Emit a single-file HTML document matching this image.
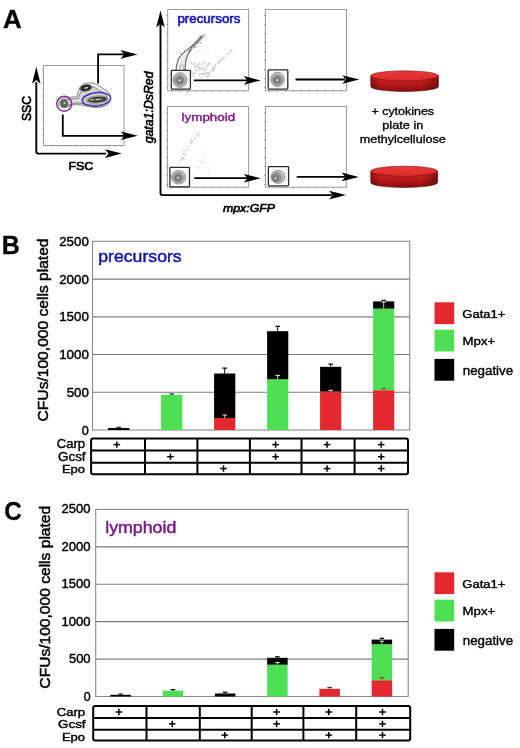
<!DOCTYPE html>
<html><head><meta charset="utf-8"><style>
html,body{margin:0;padding:0;background:#fff;overflow:hidden;width:520px;height:748px;}
svg{display:block;font-family:"Liberation Sans", sans-serif;filter:blur(0.3px);}
</style></head><body>
<svg width="520" height="748" viewBox="0 0 520 748">
<defs>
<linearGradient id="top" x1="0" y1="0" x2="0" y2="1">
<stop offset="0" stop-color="#e63a3a"/><stop offset="1" stop-color="#e02a2a"/></linearGradient>
<linearGradient id="wallv" x1="0" y1="0" x2="0" y2="1">
<stop offset="0" stop-color="#d82222"/><stop offset="0.55" stop-color="#c21a1a"/><stop offset="1" stop-color="#8e0c0c"/></linearGradient>
<linearGradient id="wallh" x1="0" y1="0" x2="1" y2="0">
<stop offset="0" stop-color="#000" stop-opacity="0.35"/><stop offset="0.15" stop-color="#000" stop-opacity="0.05"/><stop offset="0.75" stop-color="#000" stop-opacity="0.05"/><stop offset="1" stop-color="#000" stop-opacity="0.4"/></linearGradient>
</defs>
<rect width="520" height="748" fill="#fff"/>
<text transform="translate(3.00,27.95) scale(1.0031,1)" font-size="25.89" font-weight="bold" font-style="normal" fill="#000" stroke="#000" stroke-width="0.3" stroke-linejoin="round">A</text>
<text transform="translate(1.66,254.05) scale(0.9854,1)" font-size="25.45" font-weight="bold" font-style="normal" fill="#000" stroke="#000" stroke-width="0.3" stroke-linejoin="round">B</text>
<text transform="translate(4.18,520.25) scale(0.9252,1)" font-size="26.24" font-weight="bold" font-style="normal" fill="#000" stroke="#000" stroke-width="0.3" stroke-linejoin="round">C</text>
<rect x="43.5" y="65.5" width="80.5" height="80" fill="none" stroke="#9a9a9a" stroke-width="1"/>
<line x1="42.30" y1="70.00" x2="43.50" y2="70.00" stroke="#888" stroke-width="0.8" />
<line x1="42.30" y1="76.50" x2="43.50" y2="76.50" stroke="#888" stroke-width="0.8" />
<line x1="42.30" y1="83.00" x2="43.50" y2="83.00" stroke="#888" stroke-width="0.8" />
<line x1="42.30" y1="89.50" x2="43.50" y2="89.50" stroke="#888" stroke-width="0.8" />
<line x1="42.30" y1="96.00" x2="43.50" y2="96.00" stroke="#888" stroke-width="0.8" />
<line x1="42.30" y1="102.50" x2="43.50" y2="102.50" stroke="#888" stroke-width="0.8" />
<line x1="42.30" y1="109.00" x2="43.50" y2="109.00" stroke="#888" stroke-width="0.8" />
<line x1="42.30" y1="115.50" x2="43.50" y2="115.50" stroke="#888" stroke-width="0.8" />
<line x1="42.30" y1="122.00" x2="43.50" y2="122.00" stroke="#888" stroke-width="0.8" />
<line x1="42.30" y1="128.50" x2="43.50" y2="128.50" stroke="#888" stroke-width="0.8" />
<line x1="42.30" y1="135.00" x2="43.50" y2="135.00" stroke="#888" stroke-width="0.8" />
<line x1="42.30" y1="141.50" x2="43.50" y2="141.50" stroke="#888" stroke-width="0.8" />
<line x1="47.00" y1="145.50" x2="47.00" y2="146.80" stroke="#888" stroke-width="0.8" />
<line x1="52.70" y1="145.50" x2="52.70" y2="146.80" stroke="#888" stroke-width="0.8" />
<line x1="58.40" y1="145.50" x2="58.40" y2="146.80" stroke="#888" stroke-width="0.8" />
<line x1="64.10" y1="145.50" x2="64.10" y2="146.80" stroke="#888" stroke-width="0.8" />
<line x1="69.80" y1="145.50" x2="69.80" y2="146.80" stroke="#888" stroke-width="0.8" />
<line x1="75.50" y1="145.50" x2="75.50" y2="146.80" stroke="#888" stroke-width="0.8" />
<line x1="81.20" y1="145.50" x2="81.20" y2="146.80" stroke="#888" stroke-width="0.8" />
<line x1="86.90" y1="145.50" x2="86.90" y2="146.80" stroke="#888" stroke-width="0.8" />
<line x1="92.60" y1="145.50" x2="92.60" y2="146.80" stroke="#888" stroke-width="0.8" />
<line x1="98.30" y1="145.50" x2="98.30" y2="146.80" stroke="#888" stroke-width="0.8" />
<line x1="104.00" y1="145.50" x2="104.00" y2="146.80" stroke="#888" stroke-width="0.8" />
<line x1="109.70" y1="145.50" x2="109.70" y2="146.80" stroke="#888" stroke-width="0.8" />
<line x1="115.40" y1="145.50" x2="115.40" y2="146.80" stroke="#888" stroke-width="0.8" />
<line x1="121.10" y1="145.50" x2="121.10" y2="146.80" stroke="#888" stroke-width="0.8" />
<path d="M36.3,82 L36.3,151.6 Q36.3,153.6 38.3,153.6 L106,153.6" stroke="#000" stroke-width="1.9" fill="none"/>
<polygon points="36.30,66.80 40.60,83.80 36.30,80.10 32.00,83.80" fill="#000"/>
<polygon points="121.90,153.60 104.90,149.30 108.60,153.60 104.90,157.90" fill="#000"/>
<text transform="translate(30.78,121.03) rotate(-90) scale(0.9424,1)" font-size="12.97" font-weight="normal" font-style="normal" fill="#000" stroke="#000" stroke-width="0.65" stroke-linejoin="round">SSC</text>
<text transform="translate(68.40,169.88) scale(1.0546,1)" font-size="11.83" font-weight="normal" font-style="normal" fill="#000" stroke="#000" stroke-width="0.65" stroke-linejoin="round">FSC</text>
<path d="M60,100 C63,97 70,97.5 77,96.5 C78,91 80,85 85,83.5 C90,82 95,83 99,86 C103,89 107,90 109,93 C112,97 111,104 104,106.5 C97,108.5 88,107 82,105 C76,104 72,105 69,106 C66,109 60,108 59,105 C58.5,103 59,101 60,100 Z" fill="#ececec" stroke="#6a6a6a" stroke-width="0.8"/>
<path d="M61,101 C64,99 71,99.5 78,98.5 C80,93 82,88 86,86.5 C90,85.5 94,86.5 97,89 C100,91.5 104,92 106,94.5 C108.5,98 108,103 103,104.5 C96,106 88,105 82,103.5 C76,102.5 72,104 69,105 C66,107 62,106.5 61,104.5 C60.5,103.5 60.5,102 61,101 Z" fill="#d2d2d2" stroke="#4a4a4a" stroke-width="0.6"/>
<path d="M71,100.6 L82,100.1" stroke="#f6f6f6" stroke-width="1.3" stroke-dasharray="2.2,1.2"/>
<ellipse cx="85.8" cy="87.9" rx="6.2" ry="3.2" fill="#9a9a9a" stroke="#6a6a6a" stroke-width="0.8" transform="rotate(-10 85.8 87.9)"/>
<ellipse cx="85.8" cy="87.9" rx="4.6" ry="2.0" fill="#3a3a3a" stroke="#111" stroke-width="1.2" transform="rotate(-10 85.8 87.9)"/>
<ellipse cx="86.3" cy="87.9" rx="2.2" ry="0.7" fill="#e8e8e8" transform="rotate(-10 86.3 87.9)"/>
<ellipse cx="97" cy="99.6" rx="11" ry="3.6" fill="#a8a8a0" stroke="#7a7a7a" stroke-width="0.7" transform="rotate(-5 97 99.6)"/>
<ellipse cx="97.5" cy="99.6" rx="9" ry="2.3" fill="#4a4a40" stroke="#222" stroke-width="0.7" transform="rotate(-5 97.5 99.6)"/>
<path d="M90,99.9 L94,99.7 M95.5,99.6 L101,99.3" stroke="#eef0d8" stroke-width="0.9"/>
<circle cx="64.2" cy="103.4" r="3.6" fill="#5f6a5a" stroke="#333" stroke-width="0.5"/>
<circle cx="64.6" cy="103" r="1.1" fill="#c8d8b8"/>
<ellipse cx="96.5" cy="99.4" rx="14.2" ry="6.7" fill="none" stroke="#3838bc" stroke-width="1.5" transform="rotate(-6 96.5 99.4)"/>
<circle cx="64.2" cy="103.7" r="7.5" fill="none" stroke="#8a2f94" stroke-width="1.5"/>
<polyline points="98.10,83.60 98.10,54.40 124.00,54.40" stroke="#000" stroke-width="1.8" fill="none" />
<polygon points="137.50,54.40 120.50,50.10 124.20,54.40 120.50,58.70" fill="#000"/>
<polyline points="62.80,114.50 62.80,135.80 124.00,135.80" stroke="#000" stroke-width="1.8" fill="none" />
<polygon points="137.70,135.80 120.70,131.50 124.40,135.80 120.70,140.10" fill="#000"/>
<text transform="translate(153.30,143.33) rotate(-90) scale(1.0084,1)" font-size="12.22" font-weight="normal" font-style="italic" fill="#000" stroke="#000" stroke-width="0.6" stroke-linejoin="round">gata1:DsRed</text>
<text transform="translate(222.98,212.20) scale(1.1769,1)" font-size="10.47" font-weight="normal" font-style="italic" fill="#000" stroke="#000" stroke-width="0.6" stroke-linejoin="round">mpx:GFP</text>
<path d="M160.5,24 L160.5,193.1 Q160.5,195.1 162.5,195.1 L332,195.1" stroke="#000" stroke-width="1.9" fill="none"/>
<polygon points="160.50,10.40 164.80,27.40 160.50,23.70 156.20,27.40" fill="#000"/>
<polygon points="346.00,195.10 329.00,190.80 332.70,195.10 329.00,199.40" fill="#000"/>
<rect x="167.7" y="9.5" width="80.90" height="81.20" fill="none" stroke="#9a9a9a" stroke-width="1"/>
<line x1="166.50" y1="15.50" x2="167.70" y2="15.50" stroke="#777" stroke-width="0.8" />
<line x1="166.50" y1="24.50" x2="167.70" y2="24.50" stroke="#777" stroke-width="0.8" />
<line x1="166.50" y1="33.50" x2="167.70" y2="33.50" stroke="#777" stroke-width="0.8" />
<line x1="166.50" y1="42.50" x2="167.70" y2="42.50" stroke="#777" stroke-width="0.8" />
<line x1="166.50" y1="51.50" x2="167.70" y2="51.50" stroke="#777" stroke-width="0.8" />
<line x1="166.50" y1="60.50" x2="167.70" y2="60.50" stroke="#777" stroke-width="0.8" />
<line x1="166.50" y1="69.50" x2="167.70" y2="69.50" stroke="#777" stroke-width="0.8" />
<line x1="166.50" y1="78.50" x2="167.70" y2="78.50" stroke="#777" stroke-width="0.8" />
<line x1="166.50" y1="87.50" x2="167.70" y2="87.50" stroke="#777" stroke-width="0.8" />
<line x1="171.70" y1="90.70" x2="171.70" y2="91.90" stroke="#777" stroke-width="0.8" />
<line x1="179.70" y1="90.70" x2="179.70" y2="91.90" stroke="#777" stroke-width="0.8" />
<line x1="187.70" y1="90.70" x2="187.70" y2="91.90" stroke="#777" stroke-width="0.8" />
<line x1="195.70" y1="90.70" x2="195.70" y2="91.90" stroke="#777" stroke-width="0.8" />
<line x1="203.70" y1="90.70" x2="203.70" y2="91.90" stroke="#777" stroke-width="0.8" />
<line x1="211.70" y1="90.70" x2="211.70" y2="91.90" stroke="#777" stroke-width="0.8" />
<line x1="219.70" y1="90.70" x2="219.70" y2="91.90" stroke="#777" stroke-width="0.8" />
<line x1="227.70" y1="90.70" x2="227.70" y2="91.90" stroke="#777" stroke-width="0.8" />
<line x1="235.70" y1="90.70" x2="235.70" y2="91.90" stroke="#777" stroke-width="0.8" />
<line x1="243.70" y1="90.70" x2="243.70" y2="91.90" stroke="#777" stroke-width="0.8" />
<rect x="265.4" y="9.5" width="81.10" height="81.20" fill="none" stroke="#9a9a9a" stroke-width="1"/>
<line x1="264.20" y1="15.50" x2="265.40" y2="15.50" stroke="#777" stroke-width="0.8" />
<line x1="264.20" y1="24.50" x2="265.40" y2="24.50" stroke="#777" stroke-width="0.8" />
<line x1="264.20" y1="33.50" x2="265.40" y2="33.50" stroke="#777" stroke-width="0.8" />
<line x1="264.20" y1="42.50" x2="265.40" y2="42.50" stroke="#777" stroke-width="0.8" />
<line x1="264.20" y1="51.50" x2="265.40" y2="51.50" stroke="#777" stroke-width="0.8" />
<line x1="264.20" y1="60.50" x2="265.40" y2="60.50" stroke="#777" stroke-width="0.8" />
<line x1="264.20" y1="69.50" x2="265.40" y2="69.50" stroke="#777" stroke-width="0.8" />
<line x1="264.20" y1="78.50" x2="265.40" y2="78.50" stroke="#777" stroke-width="0.8" />
<line x1="264.20" y1="87.50" x2="265.40" y2="87.50" stroke="#777" stroke-width="0.8" />
<line x1="269.40" y1="90.70" x2="269.40" y2="91.90" stroke="#777" stroke-width="0.8" />
<line x1="277.40" y1="90.70" x2="277.40" y2="91.90" stroke="#777" stroke-width="0.8" />
<line x1="285.40" y1="90.70" x2="285.40" y2="91.90" stroke="#777" stroke-width="0.8" />
<line x1="293.40" y1="90.70" x2="293.40" y2="91.90" stroke="#777" stroke-width="0.8" />
<line x1="301.40" y1="90.70" x2="301.40" y2="91.90" stroke="#777" stroke-width="0.8" />
<line x1="309.40" y1="90.70" x2="309.40" y2="91.90" stroke="#777" stroke-width="0.8" />
<line x1="317.40" y1="90.70" x2="317.40" y2="91.90" stroke="#777" stroke-width="0.8" />
<line x1="325.40" y1="90.70" x2="325.40" y2="91.90" stroke="#777" stroke-width="0.8" />
<line x1="333.40" y1="90.70" x2="333.40" y2="91.90" stroke="#777" stroke-width="0.8" />
<line x1="341.40" y1="90.70" x2="341.40" y2="91.90" stroke="#777" stroke-width="0.8" />
<rect x="167.4" y="106.5" width="81.20" height="80.70" fill="none" stroke="#9a9a9a" stroke-width="1"/>
<line x1="166.20" y1="112.50" x2="167.40" y2="112.50" stroke="#777" stroke-width="0.8" />
<line x1="166.20" y1="121.50" x2="167.40" y2="121.50" stroke="#777" stroke-width="0.8" />
<line x1="166.20" y1="130.50" x2="167.40" y2="130.50" stroke="#777" stroke-width="0.8" />
<line x1="166.20" y1="139.50" x2="167.40" y2="139.50" stroke="#777" stroke-width="0.8" />
<line x1="166.20" y1="148.50" x2="167.40" y2="148.50" stroke="#777" stroke-width="0.8" />
<line x1="166.20" y1="157.50" x2="167.40" y2="157.50" stroke="#777" stroke-width="0.8" />
<line x1="166.20" y1="166.50" x2="167.40" y2="166.50" stroke="#777" stroke-width="0.8" />
<line x1="166.20" y1="175.50" x2="167.40" y2="175.50" stroke="#777" stroke-width="0.8" />
<line x1="166.20" y1="184.50" x2="167.40" y2="184.50" stroke="#777" stroke-width="0.8" />
<line x1="171.40" y1="187.20" x2="171.40" y2="188.40" stroke="#777" stroke-width="0.8" />
<line x1="179.40" y1="187.20" x2="179.40" y2="188.40" stroke="#777" stroke-width="0.8" />
<line x1="187.40" y1="187.20" x2="187.40" y2="188.40" stroke="#777" stroke-width="0.8" />
<line x1="195.40" y1="187.20" x2="195.40" y2="188.40" stroke="#777" stroke-width="0.8" />
<line x1="203.40" y1="187.20" x2="203.40" y2="188.40" stroke="#777" stroke-width="0.8" />
<line x1="211.40" y1="187.20" x2="211.40" y2="188.40" stroke="#777" stroke-width="0.8" />
<line x1="219.40" y1="187.20" x2="219.40" y2="188.40" stroke="#777" stroke-width="0.8" />
<line x1="227.40" y1="187.20" x2="227.40" y2="188.40" stroke="#777" stroke-width="0.8" />
<line x1="235.40" y1="187.20" x2="235.40" y2="188.40" stroke="#777" stroke-width="0.8" />
<line x1="243.40" y1="187.20" x2="243.40" y2="188.40" stroke="#777" stroke-width="0.8" />
<rect x="265.4" y="106.5" width="81.00" height="80.70" fill="none" stroke="#9a9a9a" stroke-width="1"/>
<line x1="264.20" y1="112.50" x2="265.40" y2="112.50" stroke="#777" stroke-width="0.8" />
<line x1="264.20" y1="121.50" x2="265.40" y2="121.50" stroke="#777" stroke-width="0.8" />
<line x1="264.20" y1="130.50" x2="265.40" y2="130.50" stroke="#777" stroke-width="0.8" />
<line x1="264.20" y1="139.50" x2="265.40" y2="139.50" stroke="#777" stroke-width="0.8" />
<line x1="264.20" y1="148.50" x2="265.40" y2="148.50" stroke="#777" stroke-width="0.8" />
<line x1="264.20" y1="157.50" x2="265.40" y2="157.50" stroke="#777" stroke-width="0.8" />
<line x1="264.20" y1="166.50" x2="265.40" y2="166.50" stroke="#777" stroke-width="0.8" />
<line x1="264.20" y1="175.50" x2="265.40" y2="175.50" stroke="#777" stroke-width="0.8" />
<line x1="264.20" y1="184.50" x2="265.40" y2="184.50" stroke="#777" stroke-width="0.8" />
<line x1="269.40" y1="187.20" x2="269.40" y2="188.40" stroke="#777" stroke-width="0.8" />
<line x1="277.40" y1="187.20" x2="277.40" y2="188.40" stroke="#777" stroke-width="0.8" />
<line x1="285.40" y1="187.20" x2="285.40" y2="188.40" stroke="#777" stroke-width="0.8" />
<line x1="293.40" y1="187.20" x2="293.40" y2="188.40" stroke="#777" stroke-width="0.8" />
<line x1="301.40" y1="187.20" x2="301.40" y2="188.40" stroke="#777" stroke-width="0.8" />
<line x1="309.40" y1="187.20" x2="309.40" y2="188.40" stroke="#777" stroke-width="0.8" />
<line x1="317.40" y1="187.20" x2="317.40" y2="188.40" stroke="#777" stroke-width="0.8" />
<line x1="325.40" y1="187.20" x2="325.40" y2="188.40" stroke="#777" stroke-width="0.8" />
<line x1="333.40" y1="187.20" x2="333.40" y2="188.40" stroke="#777" stroke-width="0.8" />
<line x1="341.40" y1="187.20" x2="341.40" y2="188.40" stroke="#777" stroke-width="0.8" />
<path d="M188,51.5 C193,46.5 197,42 203.5,35" fill="none" stroke="#b8b8b8" stroke-width="3.2"/>
<path d="M177,69 C177,62 179,57 183,53.1 C185,51 187,50 189,49 L187.5,56 C186.5,60 186,65 185.5,69 Z" fill="#ececec" stroke="none"/>
<path d="M176.1,70 C176.3,66 176.8,63.5 177.4,62.6 C178,60 178.6,58.5 179.5,57.4 C180.8,55.6 181.8,54.2 183,53.1 C184.5,51.6 185.8,50.6 187.3,49.6 C188.8,48.6 190.2,47.6 191.6,46.6 C193.2,45.3 194.6,44 196,42.7 C198.2,40.4 200,38.2 202,35.8" fill="none" stroke="#3a3a3a" stroke-width="1.05" stroke-dasharray="1.8,0.4"/>
<path d="M185.1,70 C185.2,66 185.3,64 185.6,62.6 C186,60.5 186.4,58.8 186.9,57.4 C187.5,55.6 188,54.2 188.6,53.1 C189.3,51.8 190,50.6 190.8,49.6" fill="none" stroke="#3a3a3a" stroke-width="1.05" stroke-dasharray="1.8,0.4"/>
<path d="M179.5,70 C180,66 180.6,64 181.6,63.6 C182.6,63.6 183.4,66 183.8,70" fill="none" stroke="#9a9a9a" stroke-width="0.8"/>
<rect x="192.0" y="46.4" width="0.9" height="0.9" fill="#888"/>
<rect x="197.5" y="41.2" width="0.9" height="0.9" fill="#888"/>
<rect x="190.7" y="49.0" width="0.9" height="0.9" fill="#888"/>
<rect x="194.4" y="46.7" width="0.9" height="0.9" fill="#888"/>
<rect x="199.2" y="38.5" width="0.9" height="0.9" fill="#888"/>
<rect x="190.4" y="46.1" width="0.9" height="0.9" fill="#888"/>
<rect x="196.7" y="40.9" width="0.9" height="0.9" fill="#888"/>
<rect x="190.9" y="47.5" width="0.9" height="0.9" fill="#888"/>
<rect x="196.3" y="46.2" width="0.9" height="0.9" fill="#888"/>
<rect x="195.7" y="41.0" width="0.9" height="0.9" fill="#888"/>
<rect x="200.3" y="39.4" width="0.9" height="0.9" fill="#888"/>
<rect x="197.8" y="39.7" width="0.9" height="0.9" fill="#888"/>
<rect x="202.0" y="38.1" width="0.9" height="0.9" fill="#888"/>
<rect x="194.1" y="46.7" width="0.9" height="0.9" fill="#888"/>
<rect x="197.7" y="42.6" width="0.9" height="0.9" fill="#888"/>
<rect x="194.1" y="45.9" width="0.9" height="0.9" fill="#888"/>
<rect x="199.1" y="40.8" width="0.9" height="0.9" fill="#888"/>
<rect x="204.4" y="34.1" width="0.9" height="0.9" fill="#888"/>
<rect x="200.0" y="42.6" width="0.9" height="0.9" fill="#888"/>
<rect x="203.8" y="35.6" width="0.9" height="0.9" fill="#888"/>
<rect x="199.8" y="42.2" width="0.9" height="0.9" fill="#888"/>
<rect x="197.4" y="42.4" width="0.9" height="0.9" fill="#888"/>
<rect x="201.6" y="38.0" width="0.9" height="0.9" fill="#888"/>
<rect x="199.8" y="39.2" width="0.9" height="0.9" fill="#888"/>
<rect x="194.1" y="43.5" width="0.9" height="0.9" fill="#888"/>
<rect x="190.3" y="49.1" width="0.9" height="0.9" fill="#888"/>
<rect x="198.1" y="42.1" width="0.9" height="0.9" fill="#888"/>
<rect x="198.4" y="36.1" width="0.9" height="0.9" fill="#888"/>
<rect x="195.5" y="46.4" width="0.9" height="0.9" fill="#888"/>
<rect x="190.8" y="50.7" width="0.9" height="0.9" fill="#888"/>
<rect x="222.0" y="58.9" width="0.9" height="0.9" fill="#b4b4b4"/>
<rect x="227.6" y="54.3" width="0.9" height="0.9" fill="#b4b4b4"/>
<rect x="228.5" y="52.0" width="0.9" height="0.9" fill="#b4b4b4"/>
<rect x="218.7" y="59.9" width="0.9" height="0.9" fill="#b4b4b4"/>
<rect x="218.8" y="58.3" width="0.9" height="0.9" fill="#b4b4b4"/>
<rect x="217.7" y="62.0" width="0.9" height="0.9" fill="#b4b4b4"/>
<rect x="211.3" y="70.9" width="0.9" height="0.9" fill="#b4b4b4"/>
<rect x="219.4" y="60.9" width="0.9" height="0.9" fill="#b4b4b4"/>
<rect x="216.6" y="63.6" width="0.9" height="0.9" fill="#b4b4b4"/>
<rect x="221.8" y="58.2" width="0.9" height="0.9" fill="#b4b4b4"/>
<rect x="220.8" y="58.5" width="0.9" height="0.9" fill="#b4b4b4"/>
<rect x="214.7" y="63.8" width="0.9" height="0.9" fill="#b4b4b4"/>
<rect x="208.0" y="74.5" width="0.9" height="0.9" fill="#b4b4b4"/>
<rect x="231.0" y="50.6" width="0.9" height="0.9" fill="#b4b4b4"/>
<rect x="221.0" y="60.0" width="0.9" height="0.9" fill="#b4b4b4"/>
<rect x="213.2" y="67.4" width="0.9" height="0.9" fill="#b4b4b4"/>
<rect x="212.6" y="67.9" width="0.9" height="0.9" fill="#b4b4b4"/>
<rect x="205.2" y="73.1" width="0.9" height="0.9" fill="#b4b4b4"/>
<rect x="214.4" y="68.2" width="0.9" height="0.9" fill="#b4b4b4"/>
<rect x="212.6" y="69.3" width="0.9" height="0.9" fill="#b4b4b4"/>
<rect x="224.9" y="56.9" width="0.9" height="0.9" fill="#b4b4b4"/>
<rect x="215.2" y="64.9" width="0.9" height="0.9" fill="#b4b4b4"/>
<rect x="228.7" y="53.0" width="0.9" height="0.9" fill="#b4b4b4"/>
<rect x="223.7" y="56.9" width="0.9" height="0.9" fill="#b4b4b4"/>
<rect x="212.7" y="69.5" width="0.9" height="0.9" fill="#b4b4b4"/>
<rect x="211.6" y="67.7" width="0.9" height="0.9" fill="#b4b4b4"/>
<rect x="210.4" y="71.5" width="0.9" height="0.9" fill="#b4b4b4"/>
<rect x="223.0" y="56.9" width="0.9" height="0.9" fill="#b4b4b4"/>
<rect x="208.9" y="72.8" width="0.9" height="0.9" fill="#b4b4b4"/>
<rect x="212.5" y="68.3" width="0.9" height="0.9" fill="#b4b4b4"/>
<rect x="215.0" y="64.8" width="0.9" height="0.9" fill="#b4b4b4"/>
<rect x="212.5" y="70.5" width="0.9" height="0.9" fill="#b4b4b4"/>
<rect x="229.9" y="51.5" width="0.9" height="0.9" fill="#b4b4b4"/>
<rect x="231.3" y="49.5" width="0.9" height="0.9" fill="#b4b4b4"/>
<rect x="226.1" y="53.9" width="0.9" height="0.9" fill="#b4b4b4"/>
<rect x="219.3" y="61.9" width="0.9" height="0.9" fill="#b4b4b4"/>
<rect x="213.1" y="69.1" width="0.9" height="0.9" fill="#b4b4b4"/>
<rect x="213.6" y="66.8" width="0.9" height="0.9" fill="#b4b4b4"/>
<rect x="228.7" y="48.9" width="0.9" height="0.9" fill="#b4b4b4"/>
<rect x="230.4" y="50.4" width="0.9" height="0.9" fill="#b4b4b4"/>
<rect x="206.3" y="73.5" width="0.9" height="0.9" fill="#b4b4b4"/>
<rect x="213.2" y="65.7" width="0.9" height="0.9" fill="#b4b4b4"/>
<rect x="218.0" y="63.2" width="0.9" height="0.9" fill="#b4b4b4"/>
<rect x="214.8" y="67.6" width="0.9" height="0.9" fill="#b4b4b4"/>
<rect x="218.6" y="61.2" width="0.9" height="0.9" fill="#b4b4b4"/>
<rect x="194.9" y="70.0" width="0.9" height="0.9" fill="#a8a8a8"/>
<rect x="207.3" y="64.6" width="0.9" height="0.9" fill="#a8a8a8"/>
<rect x="206.8" y="75.8" width="0.9" height="0.9" fill="#a8a8a8"/>
<rect x="207.1" y="74.4" width="0.9" height="0.9" fill="#a8a8a8"/>
<rect x="191.2" y="71.4" width="0.9" height="0.9" fill="#a8a8a8"/>
<rect x="208.3" y="62.7" width="0.9" height="0.9" fill="#a8a8a8"/>
<rect x="196.4" y="66.0" width="0.9" height="0.9" fill="#a8a8a8"/>
<rect x="201.5" y="68.3" width="0.9" height="0.9" fill="#a8a8a8"/>
<rect x="200.5" y="73.6" width="0.9" height="0.9" fill="#a8a8a8"/>
<rect x="191.0" y="62.8" width="0.9" height="0.9" fill="#a8a8a8"/>
<rect x="193.5" y="63.9" width="0.9" height="0.9" fill="#a8a8a8"/>
<rect x="192.4" y="76.6" width="0.9" height="0.9" fill="#a8a8a8"/>
<rect x="208.1" y="63.3" width="0.9" height="0.9" fill="#a8a8a8"/>
<rect x="201.0" y="66.7" width="0.9" height="0.9" fill="#a8a8a8"/>
<rect x="197.3" y="67.3" width="0.9" height="0.9" fill="#a8a8a8"/>
<rect x="203.9" y="70.8" width="0.9" height="0.9" fill="#a8a8a8"/>
<rect x="198.2" y="64.9" width="0.9" height="0.9" fill="#a8a8a8"/>
<rect x="197.6" y="63.9" width="0.9" height="0.9" fill="#a8a8a8"/>
<rect x="202.1" y="72.7" width="0.9" height="0.9" fill="#a8a8a8"/>
<rect x="198.6" y="63.2" width="0.9" height="0.9" fill="#a8a8a8"/>
<rect x="194.6" y="67.6" width="0.9" height="0.9" fill="#a8a8a8"/>
<rect x="203.1" y="73.7" width="0.9" height="0.9" fill="#a8a8a8"/>
<rect x="198.6" y="74.0" width="0.9" height="0.9" fill="#a8a8a8"/>
<rect x="203.5" y="68.5" width="0.9" height="0.9" fill="#a8a8a8"/>
<rect x="198.4" y="69.4" width="0.9" height="0.9" fill="#a8a8a8"/>
<rect x="205.1" y="68.3" width="0.9" height="0.9" fill="#a8a8a8"/>
<rect x="204.9" y="68.9" width="0.9" height="0.9" fill="#a8a8a8"/>
<rect x="195.9" y="70.0" width="0.9" height="0.9" fill="#a8a8a8"/>
<rect x="204.9" y="63.1" width="0.9" height="0.9" fill="#a8a8a8"/>
<rect x="199.5" y="68.4" width="0.9" height="0.9" fill="#a8a8a8"/>
<rect x="208.6" y="76.0" width="0.9" height="0.9" fill="#a8a8a8"/>
<rect x="198.5" y="75.5" width="0.9" height="0.9" fill="#a8a8a8"/>
<rect x="206.8" y="65.9" width="0.9" height="0.9" fill="#a8a8a8"/>
<rect x="200.3" y="63.8" width="0.9" height="0.9" fill="#a8a8a8"/>
<rect x="207.3" y="71.9" width="0.9" height="0.9" fill="#a8a8a8"/>
<rect x="208.7" y="73.9" width="0.9" height="0.9" fill="#a8a8a8"/>
<rect x="204.4" y="73.0" width="0.9" height="0.9" fill="#a8a8a8"/>
<rect x="202.3" y="63.5" width="0.9" height="0.9" fill="#a8a8a8"/>
<rect x="202.8" y="62.1" width="0.9" height="0.9" fill="#a8a8a8"/>
<rect x="193.9" y="73.6" width="0.9" height="0.9" fill="#a8a8a8"/>
<rect x="191.9" y="63.4" width="0.9" height="0.9" fill="#a8a8a8"/>
<rect x="193.0" y="75.2" width="0.9" height="0.9" fill="#a8a8a8"/>
<rect x="194.6" y="62.4" width="0.9" height="0.9" fill="#a8a8a8"/>
<rect x="207.8" y="63.8" width="0.9" height="0.9" fill="#a8a8a8"/>
<rect x="207.9" y="72.1" width="0.9" height="0.9" fill="#a8a8a8"/>
<rect x="207.7" y="76.3" width="0.9" height="0.9" fill="#a8a8a8"/>
<rect x="202.6" y="74.0" width="0.9" height="0.9" fill="#a8a8a8"/>
<rect x="191.7" y="73.5" width="0.9" height="0.9" fill="#a8a8a8"/>
<rect x="201.2" y="72.7" width="0.9" height="0.9" fill="#a8a8a8"/>
<rect x="193.1" y="73.2" width="0.9" height="0.9" fill="#a8a8a8"/>
<rect x="209.7" y="62.9" width="0.9" height="0.9" fill="#a8a8a8"/>
<rect x="197.5" y="70.5" width="0.9" height="0.9" fill="#a8a8a8"/>
<rect x="207.6" y="65.6" width="0.9" height="0.9" fill="#a8a8a8"/>
<rect x="194.6" y="65.7" width="0.9" height="0.9" fill="#a8a8a8"/>
<rect x="203.3" y="73.3" width="0.9" height="0.9" fill="#a8a8a8"/>
<rect x="198.9" y="67.5" width="0.9" height="0.9" fill="#a8a8a8"/>
<rect x="198.9" y="67.3" width="0.9" height="0.9" fill="#a8a8a8"/>
<rect x="199.4" y="63.2" width="0.9" height="0.9" fill="#a8a8a8"/>
<rect x="201.0" y="76.6" width="0.9" height="0.9" fill="#a8a8a8"/>
<rect x="199.3" y="73.2" width="0.9" height="0.9" fill="#a8a8a8"/>
<rect x="194.2" y="72.4" width="0.9" height="0.9" fill="#a8a8a8"/>
<rect x="206.1" y="72.1" width="0.9" height="0.9" fill="#a8a8a8"/>
<rect x="201.3" y="69.3" width="0.9" height="0.9" fill="#a8a8a8"/>
<rect x="203.9" y="75.5" width="0.9" height="0.9" fill="#a8a8a8"/>
<rect x="194.0" y="63.4" width="0.9" height="0.9" fill="#a8a8a8"/>
<rect x="206.0" y="75.7" width="0.9" height="0.9" fill="#a8a8a8"/>
<rect x="201.3" y="68.6" width="0.9" height="0.9" fill="#a8a8a8"/>
<rect x="205.4" y="64.8" width="0.9" height="0.9" fill="#a8a8a8"/>
<rect x="196.3" y="65.0" width="0.9" height="0.9" fill="#a8a8a8"/>
<rect x="202.7" y="66.7" width="0.9" height="0.9" fill="#a8a8a8"/>
<rect x="185.0" y="57.3" width="0.9" height="0.9" fill="#c4c4c4"/>
<rect x="206.6" y="47.4" width="0.9" height="0.9" fill="#c4c4c4"/>
<rect x="199.2" y="50.3" width="0.9" height="0.9" fill="#c4c4c4"/>
<rect x="203.6" y="54.6" width="0.9" height="0.9" fill="#c4c4c4"/>
<rect x="186.0" y="45.4" width="0.9" height="0.9" fill="#c4c4c4"/>
<rect x="178.7" y="52.0" width="0.9" height="0.9" fill="#c4c4c4"/>
<rect x="189.5" y="44.3" width="0.9" height="0.9" fill="#c4c4c4"/>
<rect x="188.8" y="48.1" width="0.9" height="0.9" fill="#c4c4c4"/>
<rect x="201.2" y="43.6" width="0.9" height="0.9" fill="#c4c4c4"/>
<rect x="207.7" y="52.0" width="0.9" height="0.9" fill="#c4c4c4"/>
<rect x="196.0" y="51.7" width="0.9" height="0.9" fill="#c4c4c4"/>
<rect x="203.0" y="60.5" width="0.9" height="0.9" fill="#c4c4c4"/>
<rect x="187.2" y="146.0" width="0.9" height="0.9" fill="#a8a8a8"/>
<rect x="193.9" y="138.0" width="0.9" height="0.9" fill="#a8a8a8"/>
<rect x="197.0" y="133.5" width="0.9" height="0.9" fill="#a8a8a8"/>
<rect x="182.4" y="153.4" width="0.9" height="0.9" fill="#a8a8a8"/>
<rect x="198.9" y="132.3" width="0.9" height="0.9" fill="#a8a8a8"/>
<rect x="181.9" y="158.2" width="0.9" height="0.9" fill="#a8a8a8"/>
<rect x="195.0" y="138.5" width="0.9" height="0.9" fill="#a8a8a8"/>
<rect x="184.3" y="154.1" width="0.9" height="0.9" fill="#a8a8a8"/>
<rect x="186.8" y="149.2" width="0.9" height="0.9" fill="#a8a8a8"/>
<rect x="180.6" y="159.0" width="0.9" height="0.9" fill="#a8a8a8"/>
<rect x="183.4" y="150.8" width="0.9" height="0.9" fill="#a8a8a8"/>
<rect x="177.3" y="164.3" width="0.9" height="0.9" fill="#a8a8a8"/>
<rect x="188.7" y="150.0" width="0.9" height="0.9" fill="#a8a8a8"/>
<rect x="196.5" y="134.7" width="0.9" height="0.9" fill="#a8a8a8"/>
<rect x="180.1" y="161.6" width="0.9" height="0.9" fill="#a8a8a8"/>
<rect x="183.0" y="157.2" width="0.9" height="0.9" fill="#a8a8a8"/>
<rect x="181.5" y="159.4" width="0.9" height="0.9" fill="#a8a8a8"/>
<rect x="194.3" y="137.7" width="0.9" height="0.9" fill="#a8a8a8"/>
<rect x="190.6" y="139.7" width="0.9" height="0.9" fill="#a8a8a8"/>
<rect x="183.7" y="150.7" width="0.9" height="0.9" fill="#a8a8a8"/>
<rect x="191.4" y="142.0" width="0.9" height="0.9" fill="#a8a8a8"/>
<rect x="186.8" y="149.7" width="0.9" height="0.9" fill="#a8a8a8"/>
<rect x="191.3" y="141.6" width="0.9" height="0.9" fill="#a8a8a8"/>
<rect x="190.9" y="142.2" width="0.9" height="0.9" fill="#a8a8a8"/>
<rect x="196.2" y="134.7" width="0.9" height="0.9" fill="#a8a8a8"/>
<rect x="198.5" y="135.2" width="0.9" height="0.9" fill="#a8a8a8"/>
<rect x="191.5" y="139.5" width="0.9" height="0.9" fill="#a8a8a8"/>
<rect x="190.3" y="143.3" width="0.9" height="0.9" fill="#a8a8a8"/>
<rect x="184.0" y="158.6" width="0.9" height="0.9" fill="#a8a8a8"/>
<rect x="191.3" y="138.9" width="0.9" height="0.9" fill="#a8a8a8"/>
<rect x="185.4" y="153.4" width="0.9" height="0.9" fill="#a8a8a8"/>
<rect x="198.2" y="136.4" width="0.9" height="0.9" fill="#a8a8a8"/>
<rect x="183.4" y="153.9" width="0.9" height="0.9" fill="#a8a8a8"/>
<rect x="183.3" y="153.8" width="0.9" height="0.9" fill="#a8a8a8"/>
<rect x="192.3" y="141.6" width="0.9" height="0.9" fill="#a8a8a8"/>
<rect x="180.3" y="160.3" width="0.9" height="0.9" fill="#a8a8a8"/>
<rect x="180.8" y="157.0" width="0.9" height="0.9" fill="#a8a8a8"/>
<rect x="182.5" y="158.8" width="0.9" height="0.9" fill="#a8a8a8"/>
<rect x="205.9" y="167.6" width="0.9" height="0.9" fill="#bcbcbc"/>
<rect x="206.0" y="162.2" width="0.9" height="0.9" fill="#bcbcbc"/>
<rect x="196.3" y="157.6" width="0.9" height="0.9" fill="#bcbcbc"/>
<rect x="197.1" y="160.7" width="0.9" height="0.9" fill="#bcbcbc"/>
<rect x="203.1" y="152.8" width="0.9" height="0.9" fill="#bcbcbc"/>
<rect x="198.0" y="166.8" width="0.9" height="0.9" fill="#bcbcbc"/>
<rect x="194.5" y="167.3" width="0.9" height="0.9" fill="#bcbcbc"/>
<rect x="208.3" y="170.8" width="0.9" height="0.9" fill="#bcbcbc"/>
<rect x="200.1" y="161.3" width="0.9" height="0.9" fill="#bcbcbc"/>
<rect x="203.3" y="163.2" width="0.9" height="0.9" fill="#bcbcbc"/>
<rect x="209.6" y="164.5" width="0.9" height="0.9" fill="#bcbcbc"/>
<rect x="198.8" y="168.6" width="0.9" height="0.9" fill="#bcbcbc"/>
<rect x="201.7" y="162.4" width="0.9" height="0.9" fill="#bcbcbc"/>
<rect x="205.6" y="148.1" width="0.9" height="0.9" fill="#bcbcbc"/>
<ellipse cx="180.00" cy="80.00" rx="7.00" ry="7.40" fill="#d0d0d0" stroke="#7a7a7a" stroke-width="0.8"/>
<ellipse cx="179.84" cy="80.16" rx="5.60" ry="5.92" fill="#b4b4b4" stroke="#8a8a8a" stroke-width="0.6"/>
<ellipse cx="179.72" cy="80.28" rx="4.20" ry="4.44" fill="#9a9a9a" stroke="#6a6a6a" stroke-width="0.6"/>
<ellipse cx="179.60" cy="80.40" rx="2.66" ry="2.81" fill="#888" stroke="#555" stroke-width="0.6"/>
<circle cx="179.60" cy="80.40" r="0.9" fill="#f4f4f4"/>
<rect x="171.3" y="70.4" width="19.10" height="18.80" rx="0.8" fill="none" stroke="#2a2a2a" stroke-width="1.3"/>
<ellipse cx="277.50" cy="79.40" rx="6.80" ry="7.20" fill="#d0d0d0" stroke="#7a7a7a" stroke-width="0.8"/>
<ellipse cx="277.42" cy="79.72" rx="5.44" ry="5.76" fill="#b4b4b4" stroke="#8a8a8a" stroke-width="0.6"/>
<ellipse cx="277.36" cy="79.96" rx="4.08" ry="4.32" fill="#9a9a9a" stroke="#6a6a6a" stroke-width="0.6"/>
<ellipse cx="277.30" cy="80.20" rx="2.58" ry="2.74" fill="#888" stroke="#555" stroke-width="0.6"/>
<circle cx="277.30" cy="80.20" r="0.9" fill="#f4f4f4"/>
<rect x="268.2" y="69.9" width="19.60" height="19.20" rx="0.8" fill="none" stroke="#2a2a2a" stroke-width="1.3"/>
<ellipse cx="178.60" cy="177.30" rx="7.20" ry="6.80" fill="#d0d0d0" stroke="#7a7a7a" stroke-width="0.8"/>
<ellipse cx="178.36" cy="177.50" rx="5.76" ry="5.44" fill="#b4b4b4" stroke="#8a8a8a" stroke-width="0.6"/>
<ellipse cx="178.18" cy="177.65" rx="4.32" ry="4.08" fill="#9a9a9a" stroke="#6a6a6a" stroke-width="0.6"/>
<ellipse cx="178.00" cy="177.80" rx="2.74" ry="2.58" fill="#888" stroke="#555" stroke-width="0.6"/>
<circle cx="178.00" cy="177.80" r="0.9" fill="#f4f4f4"/>
<rect x="169.9" y="167.4" width="19.60" height="19.40" rx="0.8" fill="none" stroke="#2a2a2a" stroke-width="1.3"/>
<ellipse cx="278.00" cy="176.80" rx="7.00" ry="6.50" fill="#d0d0d0" stroke="#7a7a7a" stroke-width="0.8"/>
<ellipse cx="277.04" cy="177.32" rx="5.60" ry="5.20" fill="#b4b4b4" stroke="#8a8a8a" stroke-width="0.6"/>
<ellipse cx="276.32" cy="177.71" rx="4.20" ry="3.90" fill="#9a9a9a" stroke="#6a6a6a" stroke-width="0.6"/>
<ellipse cx="275.60" cy="178.10" rx="2.66" ry="2.47" fill="#888" stroke="#555" stroke-width="0.6"/>
<circle cx="275.60" cy="178.10" r="0.9" fill="#f4f4f4"/>
<rect x="268.4" y="166.6" width="20.20" height="19.20" rx="0.8" fill="none" stroke="#2a2a2a" stroke-width="1.3"/>
<text transform="translate(177.43,22.60) scale(1.1038,1)" font-size="12.09" font-weight="normal" font-style="normal" fill="#1818b0" stroke="#1818b0" stroke-width="0.6" stroke-linejoin="round">precursors</text>
<text transform="translate(181.60,120.50) scale(1.2603,1)" font-size="10.62" font-weight="normal" font-style="normal" fill="#7e1a86" stroke="#7e1a86" stroke-width="0.4" stroke-linejoin="round">lymphoid</text>
<line x1="193.80" y1="80.40" x2="248.00" y2="80.40" stroke="#000" stroke-width="1.8" />
<polygon points="260.80,80.40 243.80,76.10 247.50,80.40 243.80,84.70" fill="#000"/>
<line x1="295.50" y1="79.50" x2="345.00" y2="79.50" stroke="#000" stroke-width="1.8" />
<polygon points="359.30,79.50 342.30,75.20 346.00,79.50 342.30,83.80" fill="#000"/>
<line x1="194.30" y1="178.20" x2="248.00" y2="178.20" stroke="#000" stroke-width="1.8" />
<polygon points="260.80,178.20 243.80,173.90 247.50,178.20 243.80,182.50" fill="#000"/>
<line x1="296.70" y1="176.90" x2="345.00" y2="176.90" stroke="#000" stroke-width="1.8" />
<polygon points="358.70,176.90 341.70,172.60 345.40,176.90 341.70,181.20" fill="#000"/>
<g>
<path d="M370.80,75.80 L370.80,86.50 A33.80,5.00 0 0 0 438.40,86.50 L438.40,75.80 Z" fill="url(#wallv)" stroke="none"/>
<path d="M370.80,75.80 L370.80,86.50 A33.80,5.00 0 0 0 438.40,86.50 L438.40,75.80 Z" fill="url(#wallh)" stroke="#5a0a0a" stroke-width="0.6"/>
<ellipse cx="404.60" cy="75.80" rx="33.80" ry="5.00" fill="url(#top)" stroke="#7a1010" stroke-width="0.6"/>
</g>
<g>
<path d="M370.80,171.20 L370.80,182.50 A33.40,5.00 0 0 0 437.60,182.50 L437.60,171.20 Z" fill="url(#wallv)" stroke="none"/>
<path d="M370.80,171.20 L370.80,182.50 A33.40,5.00 0 0 0 437.60,182.50 L437.60,171.20 Z" fill="url(#wallh)" stroke="#5a0a0a" stroke-width="0.6"/>
<ellipse cx="404.20" cy="171.20" rx="33.40" ry="5.00" fill="url(#top)" stroke="#7a1010" stroke-width="0.6"/>
</g>
<text transform="translate(371.46,115.25) scale(1.2198,1)" font-size="10.21" font-weight="normal" font-style="normal" fill="#000" stroke="#000" stroke-width="0.3" stroke-linejoin="round">+ cytokines</text>
<text transform="translate(382.22,128.65) scale(1.2504,1)" font-size="10.21" font-weight="normal" font-style="normal" fill="#000" stroke="#000" stroke-width="0.3" stroke-linejoin="round">plate in</text>
<text transform="translate(359.70,142.55) scale(1.2339,1)" font-size="10.21" font-weight="normal" font-style="normal" fill="#000" stroke="#000" stroke-width="0.3" stroke-linejoin="round">methylcellulose</text>
<line x1="92.50" y1="392.26" x2="409.70" y2="392.26" stroke="#7a7a7a" stroke-width="1.2" />
<line x1="92.50" y1="354.52" x2="409.70" y2="354.52" stroke="#7a7a7a" stroke-width="1.2" />
<line x1="92.50" y1="316.78" x2="409.70" y2="316.78" stroke="#7a7a7a" stroke-width="1.2" />
<line x1="92.50" y1="279.04" x2="409.70" y2="279.04" stroke="#7a7a7a" stroke-width="1.2" />
<rect x="92.50" y="241.30" width="317.20" height="188.70" fill="none" stroke="#8a8a8a" stroke-width="1.1"/>
<rect x="108.10" y="428.00" width="21.20" height="2.00" fill="#000" />
<rect x="161.10" y="394.80" width="21.20" height="35.20" fill="#4fdf55" />
<rect x="214.10" y="418.10" width="21.20" height="11.90" fill="#e4282f" />
<rect x="214.10" y="373.50" width="21.20" height="44.60" fill="#000" />
<rect x="267.10" y="379.20" width="21.20" height="50.80" fill="#4fdf55" />
<rect x="267.10" y="331.20" width="21.20" height="48.00" fill="#000" />
<rect x="320.10" y="391.60" width="21.20" height="38.40" fill="#e4282f" />
<rect x="320.10" y="366.80" width="21.20" height="24.80" fill="#000" />
<rect x="373.10" y="390.20" width="21.20" height="39.80" fill="#e4282f" />
<rect x="373.10" y="308.60" width="21.20" height="81.60" fill="#4fdf55" />
<rect x="373.10" y="301.40" width="21.20" height="7.20" fill="#000" />
<line x1="118.70" y1="428.00" x2="118.70" y2="427.30" stroke="#1a2a1a" stroke-width="1.0" />
<line x1="116.40" y1="427.30" x2="121.00" y2="427.30" stroke="#1a2a1a" stroke-width="1.2" />
<line x1="171.70" y1="395.00" x2="171.70" y2="393.90" stroke="#333" stroke-width="1.0" />
<line x1="169.40" y1="393.90" x2="174.00" y2="393.90" stroke="#333" stroke-width="1.2" />
<line x1="224.70" y1="373.50" x2="224.70" y2="368.10" stroke="#000" stroke-width="1.0" />
<line x1="222.40" y1="368.10" x2="227.00" y2="368.10" stroke="#000" stroke-width="1.2" />
<line x1="224.70" y1="418.10" x2="224.70" y2="415.00" stroke="#f0b0b0" stroke-width="1.0" />
<line x1="222.40" y1="415.00" x2="227.00" y2="415.00" stroke="#f0b0b0" stroke-width="1.2" />
<line x1="277.70" y1="331.20" x2="277.70" y2="326.30" stroke="#000" stroke-width="1.0" />
<line x1="275.40" y1="326.30" x2="280.00" y2="326.30" stroke="#000" stroke-width="1.2" />
<line x1="277.70" y1="379.20" x2="277.70" y2="375.40" stroke="#a8eea8" stroke-width="1.0" />
<line x1="275.40" y1="375.40" x2="280.00" y2="375.40" stroke="#a8eea8" stroke-width="1.2" />
<line x1="330.70" y1="366.80" x2="330.70" y2="364.10" stroke="#000" stroke-width="1.0" />
<line x1="328.40" y1="364.10" x2="333.00" y2="364.10" stroke="#000" stroke-width="1.2" />
<line x1="330.70" y1="391.60" x2="330.70" y2="390.40" stroke="#f0b8b0" stroke-width="1.0" />
<line x1="328.40" y1="390.40" x2="333.00" y2="390.40" stroke="#f0b8b0" stroke-width="1.2" />
<line x1="383.70" y1="301.40" x2="383.70" y2="300.40" stroke="#000" stroke-width="1.0" />
<line x1="381.40" y1="300.40" x2="386.00" y2="300.40" stroke="#000" stroke-width="1.2" />
<line x1="383.70" y1="308.60" x2="383.70" y2="301.80" stroke="#b0f0b0" stroke-width="1.0" />
<line x1="381.40" y1="301.80" x2="386.00" y2="301.80" stroke="#b0f0b0" stroke-width="1.2" />
<line x1="383.70" y1="390.20" x2="383.70" y2="388.60" stroke="#8a4a20" stroke-width="1.0" />
<line x1="381.40" y1="388.60" x2="386.00" y2="388.60" stroke="#8a4a20" stroke-width="1.2" />
<text transform="translate(81.75,434.60) scale(1.0514,1)" font-size="12.04" font-weight="normal" font-style="normal" fill="#000" stroke="#000" stroke-width="0.4" stroke-linejoin="round">0</text>
<text transform="translate(66.71,396.86) scale(1.1001,1)" font-size="12.04" font-weight="normal" font-style="normal" fill="#000" stroke="#000" stroke-width="0.4" stroke-linejoin="round">500</text>
<text transform="translate(59.22,359.12) scale(1.1052,1)" font-size="12.04" font-weight="normal" font-style="normal" fill="#000" stroke="#000" stroke-width="0.4" stroke-linejoin="round">1000</text>
<text transform="translate(59.22,321.38) scale(1.1052,1)" font-size="12.04" font-weight="normal" font-style="normal" fill="#000" stroke="#000" stroke-width="0.4" stroke-linejoin="round">1500</text>
<text transform="translate(59.21,283.64) scale(1.1054,1)" font-size="12.04" font-weight="normal" font-style="normal" fill="#000" stroke="#000" stroke-width="0.4" stroke-linejoin="round">2000</text>
<text transform="translate(59.21,245.90) scale(1.1054,1)" font-size="12.04" font-weight="normal" font-style="normal" fill="#000" stroke="#000" stroke-width="0.4" stroke-linejoin="round">2500</text>
<text transform="translate(47.75,421.43) rotate(-90) scale(1.0110,1)" font-size="15.45" font-weight="normal" font-style="normal" fill="#000" stroke="#000" stroke-width="0.5" stroke-linejoin="round">CFUs/100,000 cells plated</text>
<text transform="translate(98.28,261.97) scale(1.1294,1)" font-size="15.64" font-weight="normal" font-style="normal" fill="#1616a4" stroke="#1616a4" stroke-width="0.45" stroke-linejoin="round">precursors</text>
<rect x="91.10" y="438.60" width="316.90" height="35.70" rx="2" fill="none" stroke="#000" stroke-width="2"/>
<line x1="91.10" y1="450.60" x2="408.00" y2="450.60" stroke="#000" stroke-width="2" />
<line x1="91.10" y1="462.80" x2="408.00" y2="462.80" stroke="#000" stroke-width="2" />
<line x1="145.00" y1="438.60" x2="145.00" y2="474.30" stroke="#000" stroke-width="2" />
<line x1="197.40" y1="438.60" x2="197.40" y2="474.30" stroke="#000" stroke-width="2" />
<line x1="249.90" y1="438.60" x2="249.90" y2="474.30" stroke="#000" stroke-width="2" />
<line x1="301.50" y1="438.60" x2="301.50" y2="474.30" stroke="#000" stroke-width="2" />
<line x1="354.60" y1="438.60" x2="354.60" y2="474.30" stroke="#000" stroke-width="2" />
<line x1="113.50" y1="444.60" x2="120.10" y2="444.60" stroke="#000" stroke-width="1.5" />
<line x1="116.80" y1="441.40" x2="116.80" y2="447.80" stroke="#000" stroke-width="1.5" />
<line x1="167.10" y1="456.70" x2="173.70" y2="456.70" stroke="#000" stroke-width="1.5" />
<line x1="170.40" y1="453.50" x2="170.40" y2="459.90" stroke="#000" stroke-width="1.5" />
<line x1="220.20" y1="468.55" x2="226.80" y2="468.55" stroke="#000" stroke-width="1.5" />
<line x1="223.50" y1="465.35" x2="223.50" y2="471.75" stroke="#000" stroke-width="1.5" />
<line x1="272.30" y1="444.60" x2="278.90" y2="444.60" stroke="#000" stroke-width="1.5" />
<line x1="275.60" y1="441.40" x2="275.60" y2="447.80" stroke="#000" stroke-width="1.5" />
<line x1="272.30" y1="456.70" x2="278.90" y2="456.70" stroke="#000" stroke-width="1.5" />
<line x1="275.60" y1="453.50" x2="275.60" y2="459.90" stroke="#000" stroke-width="1.5" />
<line x1="323.70" y1="444.60" x2="330.30" y2="444.60" stroke="#000" stroke-width="1.5" />
<line x1="327.00" y1="441.40" x2="327.00" y2="447.80" stroke="#000" stroke-width="1.5" />
<line x1="323.70" y1="468.55" x2="330.30" y2="468.55" stroke="#000" stroke-width="1.5" />
<line x1="327.00" y1="465.35" x2="327.00" y2="471.75" stroke="#000" stroke-width="1.5" />
<line x1="377.90" y1="444.60" x2="384.50" y2="444.60" stroke="#000" stroke-width="1.5" />
<line x1="381.20" y1="441.40" x2="381.20" y2="447.80" stroke="#000" stroke-width="1.5" />
<line x1="377.90" y1="456.70" x2="384.50" y2="456.70" stroke="#000" stroke-width="1.5" />
<line x1="381.20" y1="453.50" x2="381.20" y2="459.90" stroke="#000" stroke-width="1.5" />
<line x1="377.90" y1="468.55" x2="384.50" y2="468.55" stroke="#000" stroke-width="1.5" />
<line x1="381.20" y1="465.35" x2="381.20" y2="471.75" stroke="#000" stroke-width="1.5" />
<text transform="translate(56.75,447.70) scale(1.0704,1)" font-size="12.19" font-weight="normal" font-style="normal" fill="#000" stroke="#000" stroke-width="0.4" stroke-linejoin="round">Carp</text>
<text transform="translate(58.03,460.70) scale(1.0996,1)" font-size="12.19" font-weight="normal" font-style="normal" fill="#000" stroke="#000" stroke-width="0.4" stroke-linejoin="round">Gcsf</text>
<text transform="translate(61.93,473.40) scale(1.1050,1)" font-size="11.76" font-weight="normal" font-style="normal" fill="#000" stroke="#000" stroke-width="0.4" stroke-linejoin="round">Epo</text>
<rect x="434.50" y="302.30" width="19.70" height="21.80" fill="#e4282f" />
<rect x="434.50" y="329.70" width="19.70" height="21.80" fill="#4fdf55" />
<rect x="434.50" y="358.90" width="19.70" height="21.80" fill="#000" />
<text transform="translate(462.35,317.90) scale(1.1497,1)" font-size="11.33" font-weight="normal" font-style="normal" fill="#000" stroke="#000" stroke-width="0.4" stroke-linejoin="round">Gata1+</text>
<text transform="translate(462.61,345.40) scale(1.1778,1)" font-size="11.20" font-weight="normal" font-style="normal" fill="#000" stroke="#000" stroke-width="0.4" stroke-linejoin="round">Mpx+</text>
<text transform="translate(462.80,375.40) scale(0.9899,1)" font-size="13.46" font-weight="normal" font-style="normal" fill="#000" stroke="#000" stroke-width="0.4" stroke-linejoin="round">negative</text>
<line x1="95.70" y1="659.08" x2="408.20" y2="659.08" stroke="#7a7a7a" stroke-width="1.2" />
<line x1="95.70" y1="621.66" x2="408.20" y2="621.66" stroke="#7a7a7a" stroke-width="1.2" />
<line x1="95.70" y1="584.24" x2="408.20" y2="584.24" stroke="#7a7a7a" stroke-width="1.2" />
<line x1="95.70" y1="546.82" x2="408.20" y2="546.82" stroke="#7a7a7a" stroke-width="1.2" />
<rect x="95.70" y="509.40" width="312.50" height="187.10" fill="none" stroke="#8a8a8a" stroke-width="1.1"/>
<rect x="110.40" y="694.80" width="20.50" height="1.70" fill="#000" />
<rect x="162.65" y="690.60" width="20.50" height="5.90" fill="#4fdf55" />
<rect x="214.90" y="693.50" width="20.50" height="3.00" fill="#000" />
<rect x="267.15" y="664.70" width="20.50" height="31.80" fill="#4fdf55" />
<rect x="267.15" y="657.80" width="20.50" height="6.90" fill="#000" />
<rect x="319.40" y="688.80" width="20.50" height="7.70" fill="#e4282f" />
<rect x="371.65" y="680.20" width="20.50" height="16.30" fill="#e4282f" />
<rect x="371.65" y="644.20" width="20.50" height="36.00" fill="#4fdf55" />
<rect x="371.65" y="639.60" width="20.50" height="4.60" fill="#000" />
<line x1="120.65" y1="695.00" x2="120.65" y2="694.00" stroke="#1a2a1a" stroke-width="1.0" />
<line x1="118.35" y1="694.00" x2="122.95" y2="694.00" stroke="#1a2a1a" stroke-width="1.2" />
<line x1="172.90" y1="690.60" x2="172.90" y2="689.60" stroke="#000" stroke-width="1.0" />
<line x1="170.60" y1="689.60" x2="175.20" y2="689.60" stroke="#000" stroke-width="1.2" />
<line x1="225.15" y1="693.50" x2="225.15" y2="692.30" stroke="#000" stroke-width="1.0" />
<line x1="222.85" y1="692.30" x2="227.45" y2="692.30" stroke="#000" stroke-width="1.2" />
<line x1="277.40" y1="657.80" x2="277.40" y2="656.80" stroke="#000" stroke-width="1.0" />
<line x1="275.10" y1="656.80" x2="279.70" y2="656.80" stroke="#000" stroke-width="1.2" />
<line x1="277.40" y1="664.70" x2="277.40" y2="662.50" stroke="#a8eea8" stroke-width="1.0" />
<line x1="275.10" y1="662.50" x2="279.70" y2="662.50" stroke="#a8eea8" stroke-width="1.2" />
<line x1="329.65" y1="688.80" x2="329.65" y2="687.50" stroke="#333" stroke-width="1.0" />
<line x1="327.35" y1="687.50" x2="331.95" y2="687.50" stroke="#333" stroke-width="1.2" />
<line x1="381.90" y1="639.60" x2="381.90" y2="638.30" stroke="#000" stroke-width="1.0" />
<line x1="379.60" y1="638.30" x2="384.20" y2="638.30" stroke="#000" stroke-width="1.2" />
<line x1="381.90" y1="644.20" x2="381.90" y2="641.20" stroke="#b0f0b0" stroke-width="1.0" />
<line x1="379.60" y1="641.20" x2="384.20" y2="641.20" stroke="#b0f0b0" stroke-width="1.2" />
<line x1="381.90" y1="680.20" x2="381.90" y2="677.70" stroke="#8a4a20" stroke-width="1.0" />
<line x1="379.60" y1="677.70" x2="384.20" y2="677.70" stroke="#8a4a20" stroke-width="1.2" />
<text transform="translate(83.68,700.50) scale(1.0304,1)" font-size="12.04" font-weight="normal" font-style="normal" fill="#000" stroke="#000" stroke-width="0.4" stroke-linejoin="round">0</text>
<text transform="translate(68.92,663.08) scale(1.0791,1)" font-size="12.04" font-weight="normal" font-style="normal" fill="#000" stroke="#000" stroke-width="0.4" stroke-linejoin="round">500</text>
<text transform="translate(61.57,625.66) scale(1.0843,1)" font-size="12.04" font-weight="normal" font-style="normal" fill="#000" stroke="#000" stroke-width="0.4" stroke-linejoin="round">1000</text>
<text transform="translate(61.57,588.24) scale(1.0843,1)" font-size="12.04" font-weight="normal" font-style="normal" fill="#000" stroke="#000" stroke-width="0.4" stroke-linejoin="round">1500</text>
<text transform="translate(61.56,550.82) scale(1.0844,1)" font-size="12.04" font-weight="normal" font-style="normal" fill="#000" stroke="#000" stroke-width="0.4" stroke-linejoin="round">2000</text>
<text transform="translate(61.56,513.40) scale(1.0844,1)" font-size="12.04" font-weight="normal" font-style="normal" fill="#000" stroke="#000" stroke-width="0.4" stroke-linejoin="round">2500</text>
<text transform="translate(50.35,688.63) rotate(-90) scale(1.0570,1)" font-size="14.76" font-weight="normal" font-style="normal" fill="#000" stroke="#000" stroke-width="0.5" stroke-linejoin="round">CFUs/100,000 cells plated</text>
<text transform="translate(105.23,532.98) scale(1.1151,1)" font-size="15.93" font-weight="normal" font-style="normal" fill="#7a1684" stroke="#7a1684" stroke-width="0.45" stroke-linejoin="round">lymphoid</text>
<rect x="93.20" y="706.10" width="317.00" height="34.30" rx="2" fill="none" stroke="#000" stroke-width="2"/>
<line x1="93.20" y1="717.90" x2="410.20" y2="717.90" stroke="#000" stroke-width="2" />
<line x1="93.20" y1="729.80" x2="410.20" y2="729.80" stroke="#000" stroke-width="2" />
<line x1="146.50" y1="706.10" x2="146.50" y2="740.40" stroke="#000" stroke-width="2" />
<line x1="199.80" y1="706.10" x2="199.80" y2="740.40" stroke="#000" stroke-width="2" />
<line x1="251.70" y1="706.10" x2="251.70" y2="740.40" stroke="#000" stroke-width="2" />
<line x1="303.40" y1="706.10" x2="303.40" y2="740.40" stroke="#000" stroke-width="2" />
<line x1="356.20" y1="706.10" x2="356.20" y2="740.40" stroke="#000" stroke-width="2" />
<line x1="115.60" y1="712.00" x2="122.20" y2="712.00" stroke="#000" stroke-width="1.5" />
<line x1="118.90" y1="708.80" x2="118.90" y2="715.20" stroke="#000" stroke-width="1.5" />
<line x1="168.90" y1="723.85" x2="175.50" y2="723.85" stroke="#000" stroke-width="1.5" />
<line x1="172.20" y1="720.65" x2="172.20" y2="727.05" stroke="#000" stroke-width="1.5" />
<line x1="221.50" y1="735.10" x2="228.10" y2="735.10" stroke="#000" stroke-width="1.5" />
<line x1="224.80" y1="731.90" x2="224.80" y2="738.30" stroke="#000" stroke-width="1.5" />
<line x1="273.30" y1="712.00" x2="279.90" y2="712.00" stroke="#000" stroke-width="1.5" />
<line x1="276.60" y1="708.80" x2="276.60" y2="715.20" stroke="#000" stroke-width="1.5" />
<line x1="273.30" y1="723.85" x2="279.90" y2="723.85" stroke="#000" stroke-width="1.5" />
<line x1="276.60" y1="720.65" x2="276.60" y2="727.05" stroke="#000" stroke-width="1.5" />
<line x1="325.50" y1="712.00" x2="332.10" y2="712.00" stroke="#000" stroke-width="1.5" />
<line x1="328.80" y1="708.80" x2="328.80" y2="715.20" stroke="#000" stroke-width="1.5" />
<line x1="325.50" y1="735.10" x2="332.10" y2="735.10" stroke="#000" stroke-width="1.5" />
<line x1="328.80" y1="731.90" x2="328.80" y2="738.30" stroke="#000" stroke-width="1.5" />
<line x1="379.20" y1="712.00" x2="385.80" y2="712.00" stroke="#000" stroke-width="1.5" />
<line x1="382.50" y1="708.80" x2="382.50" y2="715.20" stroke="#000" stroke-width="1.5" />
<line x1="379.20" y1="723.85" x2="385.80" y2="723.85" stroke="#000" stroke-width="1.5" />
<line x1="382.50" y1="720.65" x2="382.50" y2="727.05" stroke="#000" stroke-width="1.5" />
<line x1="379.20" y1="735.10" x2="385.80" y2="735.10" stroke="#000" stroke-width="1.5" />
<line x1="382.50" y1="731.90" x2="382.50" y2="738.30" stroke="#000" stroke-width="1.5" />
<text transform="translate(56.75,715.70) scale(1.2464,1)" font-size="10.47" font-weight="normal" font-style="normal" fill="#000" stroke="#000" stroke-width="0.4" stroke-linejoin="round">Carp</text>
<text transform="translate(58.03,728.20) scale(1.2803,1)" font-size="10.47" font-weight="normal" font-style="normal" fill="#000" stroke="#000" stroke-width="0.4" stroke-linejoin="round">Gcsf</text>
<text transform="translate(61.93,740.70) scale(1.2413,1)" font-size="10.47" font-weight="normal" font-style="normal" fill="#000" stroke="#000" stroke-width="0.4" stroke-linejoin="round">Epo</text>
<rect x="434.50" y="572.30" width="19.70" height="21.80" fill="#e4282f" />
<rect x="434.50" y="599.70" width="19.70" height="21.80" fill="#4fdf55" />
<rect x="434.50" y="628.90" width="19.70" height="21.80" fill="#000" />
<text transform="translate(462.35,587.90) scale(1.1497,1)" font-size="11.33" font-weight="normal" font-style="normal" fill="#000" stroke="#000" stroke-width="0.4" stroke-linejoin="round">Gata1+</text>
<text transform="translate(462.61,615.40) scale(1.1778,1)" font-size="11.20" font-weight="normal" font-style="normal" fill="#000" stroke="#000" stroke-width="0.4" stroke-linejoin="round">Mpx+</text>
<text transform="translate(462.80,645.40) scale(0.9899,1)" font-size="13.46" font-weight="normal" font-style="normal" fill="#000" stroke="#000" stroke-width="0.4" stroke-linejoin="round">negative</text>
</svg>
</body></html>
